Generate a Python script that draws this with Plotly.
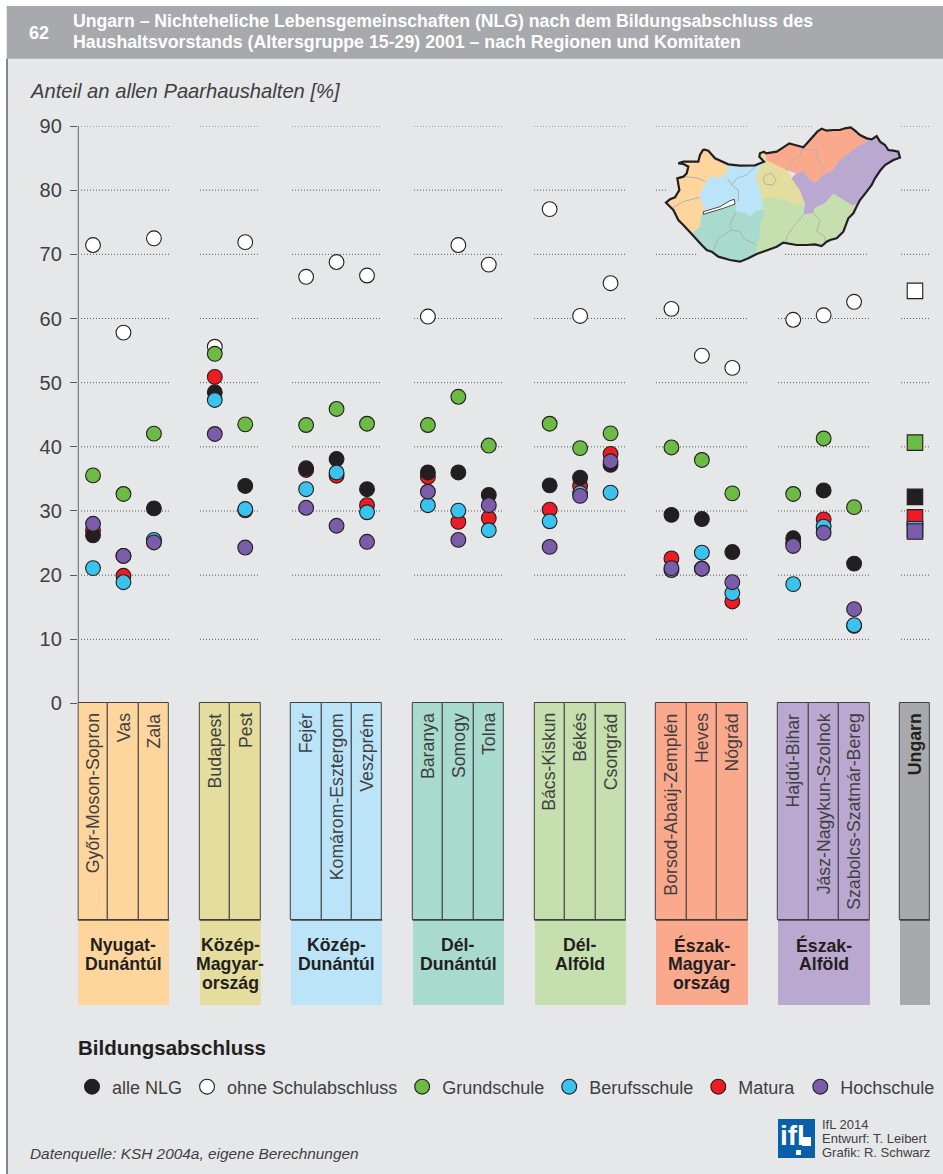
import plotly.graph_objects as go

W, H = 943, 1174

# ---------- data ----------
counties = ["Győr-Moson-Sopron", "Vas", "Zala", "Budapest", "Pest", "Fejér", "Komárom-Esztergom", "Veszprém",
            "Baranya", "Somogy", "Tolna", "Bács-Kiskun", "Békés", "Csongrád", "Borsod-Abaúj-Zemplén", "Heves",
            "Nógrád", "Hajdú-Bihar", "Jász-Nagykun-Szolnok", "Szabolcs-Szatmár-Bereg", "Ungarn"]
slots = [0, 1, 2, 4, 5, 7, 8, 9, 11, 12, 13, 15, 16, 17, 19, 20, 21, 23, 24, 25, 27]

alle_nlg = [26.2, 23.0, 30.4, 48.5, 33.9, 36.65, 38.1, 33.4, 36.0, 36.0, 32.5, 34.0, 35.2, 37.2, 29.4, 28.75, 23.6, 25.75, 33.2, 21.8, 32.2]
ohne = [71.45, 57.8, 72.5, 55.6, 71.9, 66.5, 68.8, 66.7, 60.3, 71.45, 68.4, 77.05, 60.4, 65.5, 61.5, 54.2, 52.3, 59.8, 60.5, 62.6, 64.3]
grundschule = [35.55, 32.65, 42.05, 54.5, 43.5, 43.4, 45.9, 43.6, 43.4, 47.8, 40.2, 43.6, 39.8, 42.1, 39.9, 37.95, 32.75, 32.65, 41.3, 30.6, 40.65]
berufsschule = [21.1, 18.9, 25.5, 47.3, 30.3, 33.4, 36.0, 29.8, 30.9, 30.05, 27.0, 28.4, 32.8, 32.85, 20.8, 23.5, 17.2, 18.6, 27.55, 12.2, 27.15]
matura = [27.0, 19.9, 25.3, 50.9, 30.1, 36.4, 35.5, 30.9, 35.3, 28.3, 28.9, 30.2, 33.9, 38.9, 22.6, 21.0, 15.9, 25.0, 28.7, 12.1, 29.0]
hochschule = [28.0, 23.0, 25.1, 42.0, 24.3, 30.5, 27.7, 25.2, 33.0, 25.5, 30.9, 24.4, 32.35, 37.75, 21.1, 21.0, 18.9, 24.55, 26.6, 14.7, 26.8]

regions = [["Nyugat-", "Dunántúl"], ["Közép-", "Magyar-", "ország"], ["Közép-", "Dunántúl"], ["Dél-", "Dunántúl"],
           ["Dél-", "Alföld"], ["Észak-", "Magyar-", "ország"], ["Észak-", "Alföld"], []]
region_first = [0, 4, 7, 11, 15, 19, 23, 27]
region_slots = [3, 2, 3, 3, 3, 3, 3, 1]
region_colors = ["#fed59c", "#e4dd9d", "#bbe4f8", "#a9dace", "#c6dfae", "#fba98c", "#baa8d0", "#a7a9ac"]

ticks = [0, 10, 20, 30, 40, 50, 60, 70, 80, 90]
STRIP_H = -33.74
BLOCK_H = -13.25
Y_MIN = -46.99

# grid segments: value, left px, right px (interrupted behind the inset map)
grid_groups = [(81, 169), (200, 259), (292, 382), (414, 504), (534, 625), (656, 747), (778, 869), (901, 930)]
grid_overrides = {90: {5: (656, 747), 6: (778, 812)},
                  80: {5: (656, 667), 6: None},
                  70: {5: (656, 697), 6: (785, 869)}}

# inset map outlines (own coordinate frame)
map_regions = {
    "#fed59c": [(190,118),(205,122),(225,145),(265,163),(262,185),(240,205),(210,200),(195,225),(178,260),(197,300),(185,315),(180,350),(155,372),(130,345),(100,300),(78,278),(105,262),(118,240),(112,205),(140,190),(145,170),(115,160),(130,155),(175,155),(180,135)],
    "#bbe4f8": [(265,163),(300,167),(345,166),(372,155),(360,175),(348,200),(362,240),(366,268),(370,295),(345,305),(330,320),(315,308),(288,303),(285,268),(250,285),(197,300),(178,260),(195,225),(210,200),(240,205),(262,185)],
    "#a9dace": [(190,313),(250,297),(287,283),(288,305),(315,308),(330,320),(345,305),(370,297),(373,322),(362,335),(360,380),(350,405),(348,432),(300,455),(270,450),(235,440),(200,420),(175,395),(155,372),(180,350),(185,315)],
    "#e4dd9d": [(372,125),(380,150),(410,165),(440,180),(455,205),(480,240),(492,280),(465,285),(435,265),(415,270),(390,262),(366,268),(362,240),(348,200),(360,175),(372,155),(358,140),(360,130)],
    "#fba98c": [(380,150),(378,130),(410,125),(448,100),(490,112),(520,80),(540,58),(580,60),(630,52),(660,75),(695,88),(650,112),(600,150),(580,180),(550,195),(525,220),(505,205),(490,185),(470,190),(440,180),(410,165)],
    "#baa8d0": [(695,88),(710,78),(745,120),(775,125),(778,145),(735,165),(700,215),(660,270),(640,288),(610,270),(580,252),(555,280),(525,295),(520,310),(490,315),(495,280),(480,240),(455,205),(470,190),(490,185),(505,205),(525,220),(550,195),(580,180),(600,150),(650,112)],
    "#c6dfae": [(366,268),(390,262),(415,270),(435,265),(465,285),(492,280),(490,315),(520,310),(525,295),(555,280),(580,252),(610,270),(640,288),(655,282),(640,310),(625,325),(610,365),(590,385),(560,395),(545,408),(500,405),(470,405),(430,398),(410,410),(380,420),(350,432),(350,405),(360,380),(362,335),(373,322),(370,295)],
}
map_balaton = [(190,305),(240,290),(270,272),(283,268),(285,282),(250,295),(190,313),(190,305)]
map_inner = [
    [(112,205),(140,200),(175,205),(195,215)], [(100,292),(130,275),(178,262)],
    [(262,205),(275,225),(295,240),(295,275)], [(275,225),(290,205),(320,195),(345,170)],
    [(288,305),(270,345),(275,360),(235,385),(220,420),(230,440)], [(275,360),(300,365),(310,385),(350,405)],
    [(490,315),(460,350),(440,380),(438,400)], [(520,310),(540,330),(530,365),(555,380),(555,405)],
    [(440,180),(460,150),(480,140),(485,118),(530,120),(535,150),(555,180)],
    [(585,250),(585,200),(580,180)], [(600,150),(640,145),(650,175),(695,190)],
    [(375,195),(395,190),(408,210),(398,225),(375,222),(370,205),(375,195)],
]
map_outer = [(190,118),(205,122),(225,145),(265,163),(300,167),(345,166),(372,155),(358,140),(360,130),(372,125),(378,130),(395,128),(410,125),(430,112),(448,100),(465,105),(490,112),(505,95),(520,80),(532,65),(545,56),(560,62),(580,60),(600,60),(615,55),(632,52),(645,62),(660,75),(680,85),(695,88),(710,78),(720,95),(735,105),(745,120),(760,122),(775,125),(780,143),(760,150),(735,165),(722,180),(705,205),(695,225),(680,245),(660,270),(652,285),(640,310),(625,325),(618,345),(610,365),(590,385),(570,390),(560,395),(545,408),(525,403),(500,405),(470,405),(450,402),(430,398),(410,410),(380,420),(350,432),(325,445),(300,455),(270,450),(235,440),(215,425),(200,420),(185,405),(175,395),(155,372),(130,345),(115,330),(100,300),(78,278),(90,268),(105,262),(118,240),(112,205),(130,200),(140,190),(145,170),(130,162),(115,160),(130,155),(175,155),(180,135),(190,118)]

# ---------- helpers ----------
FONT = "Liberation Sans"
INK = "#3f3f41"
def px(x): return x / W
def py(y): return 1 - y / H

def text(s, x, y, size, color=INK, family=FONT, anchor="left"):
    return dict(text=s, x=px(x), y=py(y), xref="paper", yref="paper", showarrow=False, xanchor=anchor, yanchor="middle",
                font=dict(family=family, size=size, color=color), align="left", borderpad=0, borderwidth=0)

fig = go.Figure()

# strips and blocks
strip_colors = []
for c, n in zip(region_colors, region_slots):
    strip_colors += [c] * n
fig.add_trace(go.Bar(x=slots, y=[STRIP_H] * len(slots), width=1, marker=dict(color=strip_colors, line=dict(color="#414042", width=1)),
                     showlegend=False, hoverinfo="skip"))
block_x = [f + (n - 1) / 2 for f, n in zip(region_first, region_slots)]
fig.add_trace(go.Bar(x=block_x, y=[BLOCK_H] * len(block_x), base=[STRIP_H] * len(block_x), width=region_slots,
                     marker=dict(color=region_colors, line=dict(width=0)), showlegend=False, hoverinfo="skip"))

# data markers, drawn in the reference's stacking order
symbols = ["circle"] * 20 + ["square"]
sizes = [14.8] * 20 + [15.5]
series = [
    ("ohne Schulabschluss", ohne, "#ffffff", 2),
    ("Grundschule", grundschule, "#6cbb45", 3),
    ("Matura", matura, "#ed1c24", 5),
    ("alle NLG", alle_nlg, "#231f20", 1),
    ("Berufsschule", berufsschule, "#3bc3f0", 4),
    ("Hochschule", hochschule, "#7a5ca8", 6),
]
for name, vals, col, rank in series:
    fig.add_trace(go.Scatter(x=slots, y=vals, mode="markers", name=name, legendrank=rank, cliponaxis=False,
                             marker=dict(color=col, size=sizes, symbol=symbols, opacity=1, line=dict(color="#231f20", width=1.1))))

# inset map
mx0, mx1, my0, my1 = 640, 903, 110, 280
for col, pts in map_regions.items():
    fig.add_trace(go.Scatter(x=[p[0] for p in pts] + [pts[0][0]], y=[p[1] for p in pts] + [pts[0][1]], xaxis="x2", yaxis="y2",
                             mode="lines", fill="toself", fillcolor=col, line=dict(width=0.5, color=col), showlegend=False, hoverinfo="skip"))
for pts in map_inner:
    fig.add_trace(go.Scatter(x=[p[0] for p in pts], y=[p[1] for p in pts], xaxis="x2", yaxis="y2", mode="lines",
                             line=dict(width=1, color="#b0b2b5"), showlegend=False, hoverinfo="skip"))
fig.add_trace(go.Scatter(x=[p[0] for p in map_balaton], y=[p[1] for p in map_balaton], xaxis="x2", yaxis="y2", mode="lines",
                         fill="toself", fillcolor="#ffffff", line=dict(width=0.8, color="#231f20"), showlegend=False, hoverinfo="skip"))
fig.add_trace(go.Scatter(x=[p[0] for p in map_outer], y=[p[1] for p in map_outer], xaxis="x2", yaxis="y2", mode="lines",
                         line=dict(width=2.2, color="#231f20"), showlegend=False, hoverinfo="skip"))

# ---------- shapes ----------
shapes = [
    dict(type="rect", xref="paper", yref="paper", x0=0, x1=1, y0=py(6), y1=1, fillcolor="#ffffff", line_width=0, layer="below"),
    dict(type="rect", xref="paper", yref="paper", x0=0, x1=px(7), y0=0, y1=1, fillcolor="#ffffff", line_width=0, layer="below"),
    dict(type="rect", xref="paper", yref="paper", x0=px(6.7), x1=1, y0=py(58.7), y1=py(6), fillcolor="#a7a9ac", line_width=0, layer="below"),
    dict(type="line", xref="paper", yref="paper", x0=px(7), x1=px(7), y0=0, y1=py(58.7), line=dict(color="#414042", width=1.2)),
]
for t in ticks[1:]:
    for i, seg in enumerate(grid_groups):
        s = grid_overrides.get(t, {}).get(i, seg)
        if s:
            shapes.append(dict(type="line", xref="paper", yref="y", x0=px(s[0]), x1=px(s[1]), y0=t, y1=t, layer="below",
                               line=dict(color="#58595b", width=1, dash="1px,2px")))
for f, n in zip(region_first, region_slots):
    shapes.append(dict(type="line", xref="x", yref="y", x0=f - 0.5, x1=f + n - 0.5, y0=STRIP_H, y1=STRIP_H,
                       line=dict(color="#414042", width=1.6)))
shapes.append(dict(type="line", xref="x", yref="y", x0=-0.5, x1=-0.5, y0=STRIP_H, y1=90, line=dict(color="#636466", width=2)))

# logo
shapes.append(dict(type="rect", xref="paper", yref="paper", x0=px(778), x1=px(815), y0=py(1158), y1=py(1119),
                   fillcolor="#0a5fab", line_width=0))
shapes.append(dict(type="rect", xref="paper", yref="paper", x0=px(802), x1=px(811), y0=py(1146), y1=py(1137),
                   fillcolor="#ffffff", line_width=0))
shapes.append(dict(type="rect", xref="paper", yref="paper", x0=px(796), x1=px(801), y0=py(1155), y1=py(1150),
                   fillcolor="#ffffff", line_width=0))

# ---------- text ----------
ann = [
    text("<b>62</b>", 29, 33, 18, "#ffffff"),
    text("<b>Ungarn – Nichteheliche Lebensgemeinschaften (NLG) nach dem Bildungsabschluss des</b>", 73, 21, 17.65, "#ffffff"),
    text("<b>Haushaltsvorstands (Altersgruppe 15-29) 2001 – nach Regionen und Komitaten</b>", 73, 42, 17.75, "#ffffff"),
    text("<i>Anteil an allen Paarhaushalten [%]</i>", 30, 91, 20.2),
    text("<b>Bildungsabschluss</b>", 78, 1047, 20.5, "#231f20"),
    text("<i>Datenquelle: KSH 2004a, eigene Berechnungen</i>", 30, 1153, 15.4),
    text("IfL 2014", 822, 1124, 13),
    text("Entwurf: T. Leibert", 822, 1138, 13),
    text("Grafik: R. Schwarz", 822, 1152, 13),
    text("<b>ifl</b>", 780, 1135, 28, "#ffffff"),
]
for s, c in zip(slots, counties):
    label = f"<b>{c}</b>" if c == "Ungarn" else c
    ann.append(dict(text=label, x=s, y=-1.2, xref="x", yref="y", textangle=-90, showarrow=False, xanchor="center", yanchor="top",
                    font=dict(family=FONT, size=17.7, color=INK if c != "Ungarn" else "#231f20")))
for x, lines in zip(block_x, regions):
    for i, line in enumerate(lines):
        ann.append(dict(text=f"<b>{line}</b>", x=x, y=py(945 + i * 19), xref="x", yref="paper", showarrow=False, xanchor="center",
                        yanchor="middle", font=dict(family=FONT, size=17.7, color="#231f20")))

fig.update_layout(
    width=W, height=H, autosize=False, margin=dict(l=0, r=0, t=0, b=0, autoexpand=False),
    paper_bgcolor="#e6e7e9", plot_bgcolor="rgba(0,0,0,0)", barmode="overlay", bargap=0,
    xaxis=dict(domain=[px(77.8), px(930.2)], range=[-0.5, 27.5], visible=False, fixedrange=True),
    yaxis=dict(domain=[py(1005), py(126)], range=[Y_MIN, 90], tickvals=ticks, ticktext=[str(t) for t in ticks], ticks="outside", ticklen=7,
               tickwidth=1, tickcolor="#58595b", showgrid=False, zeroline=False, showline=False, fixedrange=True, ticklabelstandoff=4,
               tickfont=dict(family=FONT, size=20, color=INK)),
    xaxis2=dict(domain=[px(mx0), px(mx1)], range=[0, (mx1 - mx0) * 3], visible=False, anchor="y2", fixedrange=True),
    yaxis2=dict(domain=[py(my1), py(my0)], range=[(my1 - my0) * 3, 0], visible=False, anchor="x2", fixedrange=True),
    legend=dict(orientation="h", x=px(72), y=py(1087), xanchor="left", yanchor="middle", bgcolor="rgba(0,0,0,0)",
                font=dict(family=FONT, size=18, color=INK), tracegroupgap=0, itemclick=False, itemdoubleclick=False),
    shapes=shapes, annotations=ann, showlegend=True,
)
fig.write_html("out.html", config={"displayModeBar": False, "responsive": False},
               post_script="document.body.style.margin='0';document.body.style.overflow='hidden';")
